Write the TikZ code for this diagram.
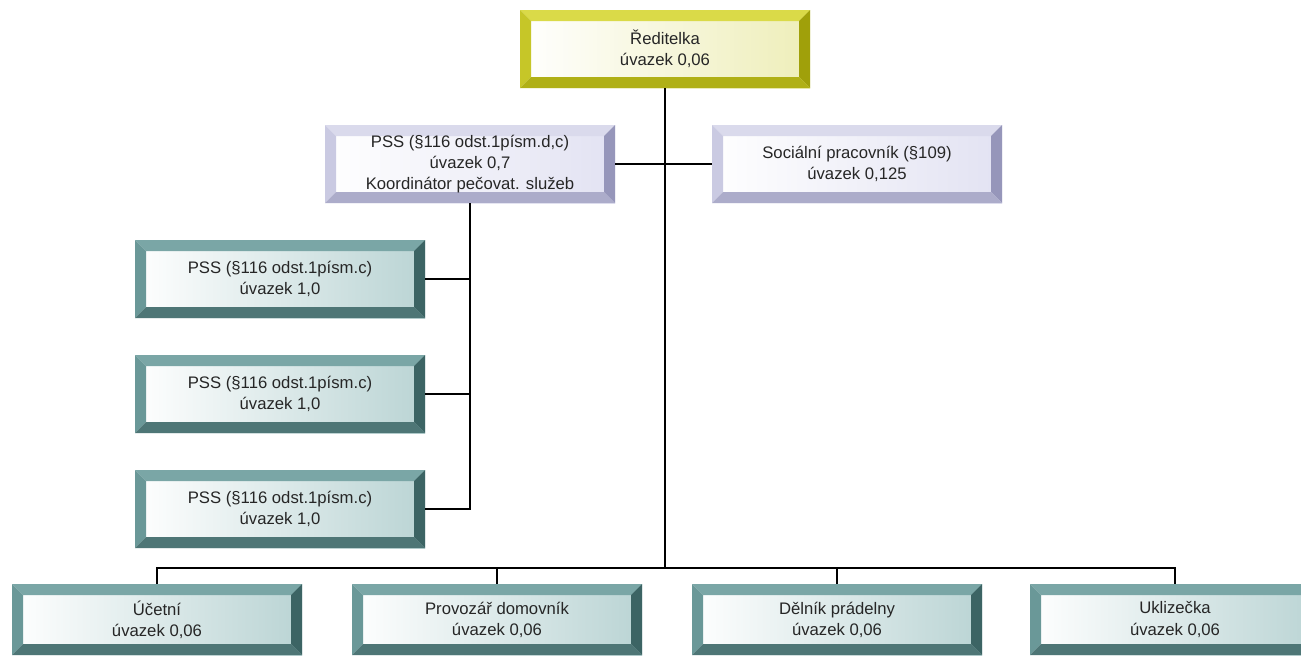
\documentclass[tikz,border=0pt]{standalone}
\usepackage{fontspec}
\setmainfont{Liberation Sans}
\usepackage{tikz}
\usetikzlibrary{positioning, calc}
\usepackage{xcolor}

\definecolor{yelT}{RGB}{218,218,72}
\definecolor{yelL}{RGB}{198,198,40}
\definecolor{yelR}{RGB}{160,160,10}
\definecolor{yelB}{RGB}{176,176,22}
\definecolor{yelF}{RGB}{238,238,185}
\definecolor{lavT}{RGB}{218,218,236}
\definecolor{lavL}{RGB}{202,202,226}
\definecolor{lavR}{RGB}{150,150,186}
\definecolor{lavB}{RGB}{172,172,202}
\definecolor{lavF}{RGB}{226,226,242}
\definecolor{tealT}{RGB}{122,166,166}
\definecolor{tealL}{RGB}{106,152,152}
\definecolor{tealR}{RGB}{60,100,100}
\definecolor{tealB}{RGB}{78,118,118}
\definecolor{tealF}{RGB}{186,212,212}

\newcommand{\bw}{0.22cm}
\tikzset{
  orgbox/.style={rectangle, minimum width=5.8cm, minimum height=1.56cm, inner sep=0pt,
    align=center, font=\fontsize{9.5}{12}\selectfont, text=black!85},
  bevel/.style n args={5}{orgbox, left color=white, right color=#5,
    path picture={
      \fill[#1] (path picture bounding box.north west) -- (path picture bounding box.north east)
        -- ([shift={(-\bw,-\bw)}]path picture bounding box.north east)
        -- ([shift={(\bw,-\bw)}]path picture bounding box.north west) -- cycle;
      \fill[#2] (path picture bounding box.north west) -- ([shift={(\bw,-\bw)}]path picture bounding box.north west)
        -- ([shift={(\bw,\bw)}]path picture bounding box.south west)
        -- (path picture bounding box.south west) -- cycle;
      \fill[#3] (path picture bounding box.north east) -- ([shift={(-\bw,-\bw)}]path picture bounding box.north east)
        -- ([shift={(-\bw,\bw)}]path picture bounding box.south east)
        -- (path picture bounding box.south east) -- cycle;
      \fill[#4] (path picture bounding box.south west) -- (path picture bounding box.south east)
        -- ([shift={(-\bw,\bw)}]path picture bounding box.south east)
        -- ([shift={(\bw,\bw)}]path picture bounding box.south west) -- cycle;
    }},
  yelbox/.style={bevel={yelT}{yelL}{yelR}{yelB}{yelF}},
  lavbox/.style={bevel={lavT}{lavL}{lavR}{lavB}{lavF}},
  tealbox/.style={bevel={tealT}{tealL}{tealR}{tealB}{tealF}},
  lowbox/.style={tealbox, minimum height=1.42cm},
  link/.style={line width=0.6pt, black}
}

\begin{document}
\begin{tikzpicture}
		\useasboundingbox (0,0) rectangle (26.02,-13.12);
		\clip (0,0) rectangle (26.02,-13.12);
		\draw (13.3cm,-0.98cm) node[yelbox] (dir) {Ředitelka\\úvazek 0,06}
		(9.4cm,-3.28cm) node[lavbox] (koord) {PSS (§116 odst.1písm.d,c)\\úvazek 0,7\\Koordinátor pečovat. služeb}
		(17.14cm,-3.28cm) node[lavbox] (soc) {Sociální pracovník (§109)\\úvazek 0,125}
		(5.6cm,-5.58cm) node[tealbox] (pss1) {PSS (§116 odst.1písm.c)\\úvazek 1,0}
		(5.6cm,-7.88cm) node[tealbox] (pss2) {PSS (§116 odst.1písm.c)\\úvazek 1,0}
		(5.6cm,-10.18cm) node[tealbox] (pss3) {PSS (§116 odst.1písm.c)\\úvazek 1,0}
		(3.14cm,-12.39cm) node[lowbox] (ucet) {Účetní\\úvazek 0,06}
		(9.94cm,-12.39cm) node[lowbox] (prov) {Provozář domovník\\úvazek 0,06}
		(16.74cm,-12.39cm) node[lowbox] (deln) {Dělník prádelny\\úvazek 0,06}
		(23.5cm,-12.39cm) node[lowbox] (ukl) {Uklizečka\\úvazek 0,06};

		\coordinate (bus) at (dir.south |- 0,-11.36);

		\draw[link] (dir.south) -- (bus);
		\draw[link] (koord.east) -- (soc.west);
		\draw[link] (koord.south) |- (pss3.east);
		\draw[link] (pss1.east) -- (pss1.east -| koord.south);
		\draw[link] (pss2.east) -- (pss2.east -| koord.south);
		\draw[link] (ucet.north) |- (bus) -| (ukl.north);
		\draw[link] (prov.north) -- (prov.north |- bus);
		\draw[link] (deln.north) -- (deln.north |- bus);
	\end{tikzpicture}
\end{document}
